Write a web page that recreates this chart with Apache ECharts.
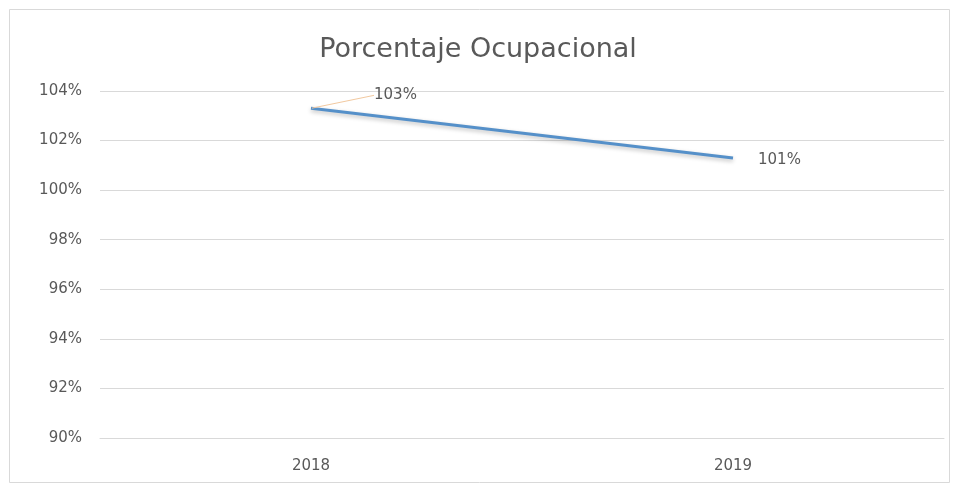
<!DOCTYPE html>
<html>
<head>
<meta charset="utf-8">
<title>Porcentaje Ocupacional</title>
<script src="https://cdn.jsdelivr.net/npm/echarts@6/dist/echarts.min.js"></script>
<style>
  html, body { margin: 0; padding: 0; background: #ffffff; }
  #chart { width: 956px; height: 487px; }
</style>
</head>
<body>
<div id="chart"></div>
<script>
// Occupancy percentage per year
const years = ['2018', '2019'];
const occupancy = [103.3, 101.3];
const yMin = 90;
const yMax = 104;
const yStep = 2;

const textGray = '#595959';
const font = 'DejaVu Sans';

// the first value label is pulled up-right and joined to its point by a leader line
const seriesData = occupancy.map((v, i) => i === 0
  ? { value: v, labelLine: { show: true } }
  : { value: v });

const chart = echarts.init(document.getElementById('chart'), null, { renderer: 'canvas' });

chart.setOption({
  backgroundColor: '#ffffff',
  animation: false,
  title: {
    text: 'Porcentaje Ocupacional',
    left: 'center',
    top: 31,
    textStyle: { fontFamily: font, fontSize: 27, fontWeight: 'normal', color: textGray }
  },
  graphic: [{
    type: 'rect',
    shape: { x: 9.5, y: 9.5, width: 940, height: 473 },
    style: { fill: 'none', stroke: '#d9d9d9', lineWidth: 1 },
    silent: true
  }],
  grid: { left: 100, right: 12, top: 91, bottom: 49 },
  xAxis: {
    type: 'category',
    data: years,
    boundaryGap: true,
    axisLine: { show: true, lineStyle: { color: '#d9d9d9' } },
    axisTick: { show: false },
    axisLabel: { color: textGray, fontFamily: font, fontSize: 15, margin: 21 }
  },
  yAxis: {
    type: 'value',
    min: yMin,
    max: yMax,
    interval: yStep,
    axisLine: { show: false },
    axisTick: { show: false },
    splitLine: { lineStyle: { color: '#d9d9d9', width: 1 } },
    axisLabel: {
      color: textGray, fontFamily: font, fontSize: 15, margin: 18,
      formatter: '{value}%'
    }
  },
  series: [{
    type: 'line',
    data: seriesData,
    symbol: 'circle',
    symbolSize: 2,
    showSymbol: true,
    itemStyle: { color: 'rgba(0,0,0,0)', borderWidth: 0 },
    lineStyle: {
      color: '#5590c9', width: 3,
      shadowColor: 'rgba(0,0,0,0.25)', shadowBlur: 4, shadowOffsetY: 2
    },
    label: {
      show: true,
      position: 'right',
      distance: 24,
      color: textGray,
      opacity: 1,
      fontFamily: font,
      fontSize: 15,
      formatter: (p) => Math.round(p.value) + '%'
    },
    labelLine: {
      show: false,
      lineStyle: { color: '#f2c9a0', width: 1 }
    },
    labelLayout: (p) => p.dataIndex === 0 ? { dx: 38, dy: -13 } : { dy: 2 }
  }]
});
</script>
</body>
</html>
